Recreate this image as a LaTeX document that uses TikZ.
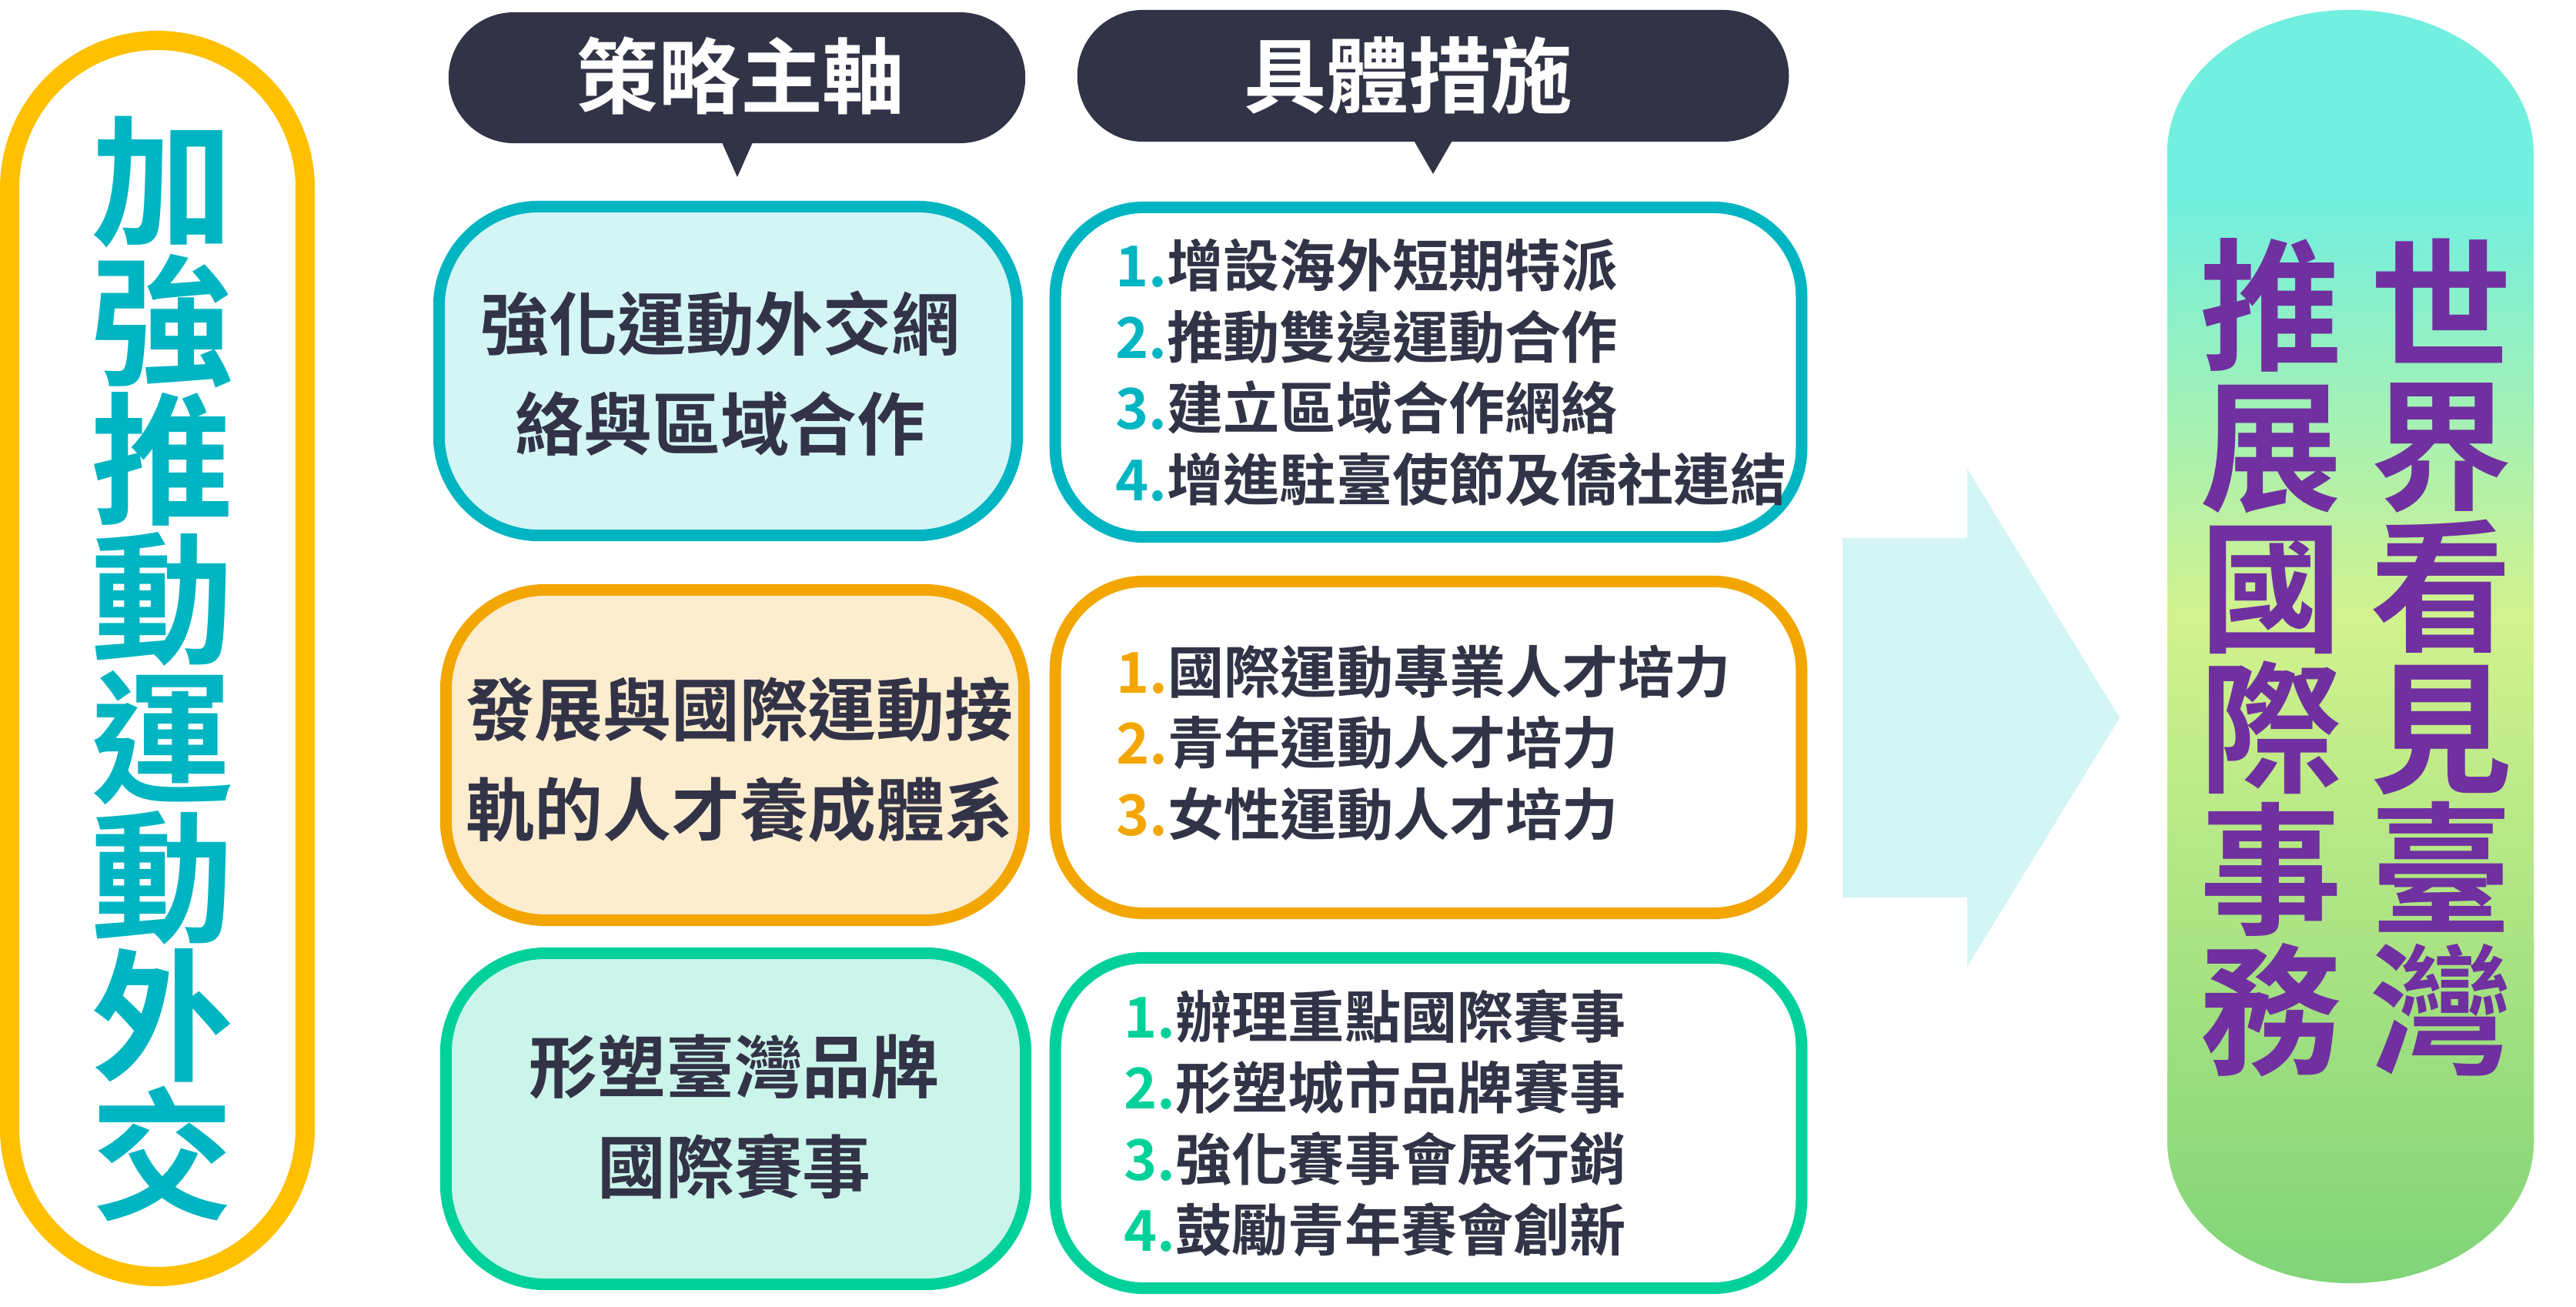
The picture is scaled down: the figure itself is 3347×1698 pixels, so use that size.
\documentclass[tikz,border=0pt]{standalone}
\usepackage{fontspec}
\setmainfont{Noto Sans CJK TC Bold}
\definecolor{cNavy}{HTML}{333347}
\definecolor{cTeal}{HTML}{00B5C2}
\definecolor{cTealFill}{HTML}{D3F5F5}
\definecolor{cOrange}{HTML}{F3A600}
\definecolor{cOrangeFill}{HTML}{FDEDCF}
\definecolor{cGreen}{HTML}{00D19B}
\definecolor{cGreenFill}{HTML}{CBF5EA}
\definecolor{cGold}{HTML}{FFC000}
\definecolor{cPurple}{HTML}{7030A0}
\definecolor{pgT}{HTML}{72EFDF}
\definecolor{pgM}{HTML}{D2F28E}
\definecolor{pgB}{HTML}{80D478}
\pgfdeclareverticalshading{pillgrad}{100bp}{color(0bp)=(pgB); color(25bp)=(pgB); color(51.2bp)=(pgM); color(67.5bp)=(pgT); color(100bp)=(pgT)}
\begin{document}
\begin{tikzpicture}[x=0.01cm,y=-0.01cm,
  stratbox/.style={draw, line width=0.15cm, rounded corners=1.3cm, inner sep=0pt},
  listbox/.style={draw, line width=0.15cm, rounded corners=1.15cm, fill=white, inner sep=0pt},
  header/.style={fill=cNavy, rounded corners=0.85cm, inner sep=0pt},
  headtxt/.style={text=white, inner sep=0pt, font=\fontsize{30.4pt}{36pt}\selectfont},
  strattxt/.style={text=cNavy, inner sep=0pt, align=center, font=\fontsize{25.3pt}{37pt}\selectfont},
  listtxt/.style={text=cNavy, inner sep=0pt, align=left, anchor=west, font=\fontsize{20.8pt}{26.3pt}\selectfont},
  bigtxt/.style={inner sep=0pt, align=center, font=\fontsize{52.6pt}{51.4pt}\selectfont}]
\useasboundingbox (0,0) rectangle (3347,1698);

% left pill
\draw[cGold, line width=0.25cm, rounded corners=1.92cm] (12.5,52.5) rectangle (396.5,1658.5);
\node[bigtxt, text=cTeal] (lt) at (211,869) {加\\強\\推\\動\\運\\動\\外\\交};

% headers
\node[header, minimum width=7.49cm, minimum height=1.70cm] (h1) at (957.5,101) {};
\fill[cNavy] (934,176) -- (958,230) -- (982,176) -- cycle;
\node[headtxt] (h1t) at (962,98) {策略主軸};
\node[header, minimum width=9.24cm, minimum height=1.71cm] (h2) at (1862,98.5) {};
\fill[cNavy] (1832,174) -- (1862,226) -- (1892,174) -- cycle;
\node[headtxt] (h2t) at (1830,98) {具體措施};

% strategy boxes
\node[stratbox, draw=cTeal, fill=cTealFill, minimum width=7.51cm, minimum height=4.27cm] (s1) at (946,482) {};
\node[strattxt] (s1t) at (936,485) {強化運動外交網\\絡與區域合作};
\node[stratbox, draw=cOrange, fill=cOrangeFill, minimum width=7.51cm, minimum height=4.29cm] (s2) at (955,981) {};
\node[strattxt] (s2t) at (961,987) {發展與國際運動接\\軌的人才養成體系};
\node[stratbox, draw=cGreen, fill=cGreenFill, minimum width=7.53cm, minimum height=4.30cm] (s3) at (956,1453.5) {};
\node[strattxt] (s3t) at (954,1451) {形塑臺灣品牌\\國際賽事};

% measure boxes
\node[listbox, draw=cTeal, minimum width=9.69cm, minimum height=4.28cm] (m1) at (1856,483.5) {};
\node[listtxt] (m1t) at (1449,484) {\textcolor{cTeal}{1.}增設海外短期特派\\\textcolor{cTeal}{2.}推動雙邊運動合作\\\textcolor{cTeal}{3.}建立區域合作網絡\\\textcolor{cTeal}{4.}增進駐臺使節及僑社連結};
\node[listbox, draw=cOrange, minimum width=9.69cm, minimum height=4.31cm] (m2) at (1856,971) {};
\node[listtxt] (m2t) at (1450,965) {\textcolor{cOrange}{1.}國際運動專業人才培力\\\textcolor{cOrange}{2.}青年運動人才培力\\\textcolor{cOrange}{3.}女性運動人才培力};
\node[listbox, draw=cGreen, minimum width=9.69cm, minimum height=4.29cm] (m3) at (1856,1459) {};
\node[listtxt] (m3t) at (1460,1459) {\textcolor{cGreen}{1.}辦理重點國際賽事\\\textcolor{cGreen}{2.}形塑城市品牌賽事\\\textcolor{cGreen}{3.}強化賽事會展行銷\\\textcolor{cGreen}{4.}鼓勵青年賽會創新};

% big arrow
\fill[cTealFill] (2394,699) -- (2556,699) -- (2556,609) -- (2754,932.5) -- (2556,1256) -- (2556,1166) -- (2394,1166) -- cycle;

% right pill
\shade[shading=pillgrad] (2816,199) -- (2816,1483) arc[start angle=180, end angle=360, x radius=2.38cm, y radius=1.84cm] -- (3292,199) arc[start angle=0, end angle=180, x radius=2.38cm, y radius=1.86cm] -- cycle;
\node[bigtxt, text=cPurple, font=\fontsize{52.6pt}{52.1pt}\selectfont] (rt1) at (2951,854) {推\\展\\國\\際\\事\\務};
\node[bigtxt, text=cPurple, font=\fontsize{52.6pt}{52.1pt}\selectfont] (rt2) at (3172,854) {世\\界\\看\\見\\臺\\灣};
\end{tikzpicture}
\end{document}
